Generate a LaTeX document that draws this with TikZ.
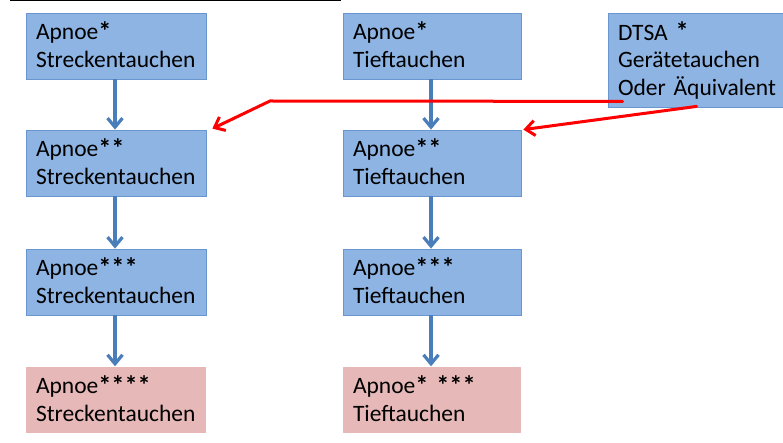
\documentclass[tikz,border=0pt]{standalone}
\usepackage{fontspec}
\setmainfont{Carlito}
\usetikzlibrary{arrows.meta}
\definecolor{boxfill}{HTML}{8EB4E3}
\definecolor{boxline}{HTML}{6A96CF}
\definecolor{pinkfill}{HTML}{E6B9B8}
\definecolor{arrowblue}{HTML}{4A7EBB}
\definecolor{arrowred}{HTML}{FF0000}
\newcommand\sstar{{\bfseries\raisebox{-0.6pt}{\scalebox{1.12}{*}}}}
\begin{document}
\begin{tikzpicture}[x=1pt,y=-1pt,
  lvl/.style={rectangle, inner xsep=10pt, inner ysep=0pt, text width=#1,
    align=left, minimum height=66pt,
    font=\fontsize{23.5}{27.5}\selectfont, text height=15.5pt, text depth=27.5pt},
  bluebox/.style={lvl=#1, fill=boxfill, draw=boxline, line width=0.8pt},
  pinkbox/.style={lvl=#1, fill=pinkfill},
  bluearrow/.style={draw=arrowblue, line width=3.2pt,
    -{Straight Barb[length=9pt,width=15pt]}},
  redarrow/.style={draw=arrowred, line width=3pt, line cap=round, line join=round,
    -{Straight Barb[length=9pt,width=15pt]}}
]
\clip (0,0) rectangle (783,443);
\useasboundingbox (0,0) rectangle (783,443);

% top rule
\draw[line width=1.5pt] (10,0.75) -- (341,0.75);

% left column
\node[bluebox=160pt] (s1) at (116,46) {Apnoe\sstar\\Streckentauchen};
\node[bluebox=160pt] (s2) at (116,163) {Apnoe\sstar\sstar\\Streckentauchen};
\node[bluebox=160pt] (s3) at (116,282) {Apnoe\sstar\sstar\sstar\\Streckentauchen};
\node[pinkbox=160pt] (s4) at (116,399.5) {Apnoe\sstar\sstar\sstar\sstar\\Streckentauchen};

% middle column
\node[bluebox=158pt] (t1) at (432,46) {Apnoe\sstar\\Tieftauchen};
\node[bluebox=158pt] (t2) at (432,163) {Apnoe\sstar\sstar\\Tieftauchen};
\node[bluebox=158pt] (t3) at (432,282) {Apnoe\sstar\sstar\sstar\\Tieftauchen};
\node[pinkbox=158pt] (t4) at (432,399.5) {Apnoe\sstar{} \sstar\sstar\sstar\\Tieftauchen};

% right box
\node[lvl=160pt, fill=boxfill, draw=boxline, line width=0.8pt,
  minimum height=94pt, text depth=55pt] (d) at (698,60)
  {DTSA \sstar\\Gerätetauchen\\Oder Äquivalent};

% blue arrows
\draw[bluearrow] ([xshift=-1pt]s1.south) -- ([xshift=-1pt]s2.north);
\draw[bluearrow] ([xshift=-1pt]s2.south) -- ([xshift=-1pt]s3.north);
\draw[bluearrow] ([xshift=-1pt]s3.south) -- ([xshift=-1pt]s4.north);
\draw[bluearrow] ([xshift=-1pt]t1.south) -- ([xshift=-1pt]t2.north);
\draw[bluearrow] ([xshift=-1pt]t2.south) -- ([xshift=-1pt]t3.north);
\draw[bluearrow] ([xshift=-1pt]t3.south) -- ([xshift=-1pt]t4.north);

% red arrows
\coordinate (r1s) at ([xshift=15pt,yshift=6pt]d.south west);
\coordinate (r1b) at (270,101);
\coordinate (r1e) at ([xshift=6pt,yshift=1pt]s2.north east);
\coordinate (r2s) at ([xshift=89pt,yshift=1pt]d.south west);
\coordinate (r2e) at ([xshift=2pt]t2.north east);
\draw[redarrow] (r1s) -- (r1b) -- (r1e);
\draw[redarrow] (r2s) -- (r2e);
\end{tikzpicture}
\end{document}
